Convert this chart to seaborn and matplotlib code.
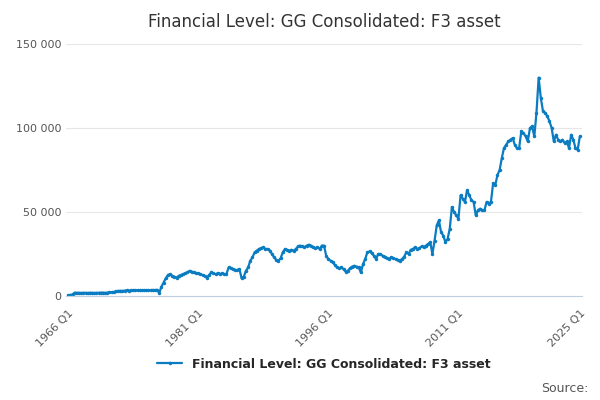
import matplotlib
matplotlib.use('Agg')
import matplotlib.pyplot as plt
import seaborn as sns
import pandas as pd
import numpy as np

# quarterly values (millions), 1966 Q1 .. 2025 Q1
values = [
    500, 600, 900, 2000,        # 1966
    1900, 1900, 1800, 1900,     # 1967
    1900, 1800, 1900, 1900,     # 1968
    1800, 1900, 1900, 2000,     # 1969
    2000, 1900, 2000, 2100,     # 1970
    2200, 2400, 2800, 3000,     # 1971
    3100, 3000, 3200, 3300,     # 1972
    3200, 3400, 3300, 3500,     # 1973
    3400, 3300, 3500, 3400,     # 1974
    3300, 3500, 3400, 3600,     # 1975
    3500, 3700, 1800, 5500,     # 1976
    8000, 10500, 12500, 13000,  # 1977
    12000, 11500, 11000, 12000, # 1978
    12500, 13000, 13500, 14000, # 1979
    15000, 14500, 14000, 13500, # 1980
    13500, 13000, 12500, 12000, # 1981
    11000, 12500, 14000, 13500, # 1982
    13000, 13500, 13000, 13500, # 1983
    13000, 13000, 17000, 16500, # 1984
    16000, 15500, 15500, 16000, # 1985
    10500, 11500, 15000, 17000, # 1986
    21000, 23000, 26000, 27000, # 1987
    28000, 28500, 29000, 28000, # 1988
    28000, 27000, 25000, 23000, # 1989
    21500, 21000, 22500, 26000, # 1990
    28000, 27500, 27000, 27500, # 1991
    27000, 28000, 29500, 30000, # 1992
    29500, 29000, 30000, 30500, # 1993
    30000, 29000, 28500, 29000, # 1994
    28000, 30000, 30000, 24000, # 1995
    22000, 21000, 20000, 18500, # 1996
    17000, 16500, 17000, 16000, # 1997
    14500, 15000, 16500, 17500, # 1998
    18000, 17500, 17000, 14000, # 1999
    19000, 22000, 26000, 26500, # 2000
    25500, 24000, 22000, 25000, # 2001
    25000, 24000, 23500, 22500, # 2002
    22000, 23000, 22500, 22000, # 2003
    21500, 21000, 22000, 23500, # 2004
    26000, 25000, 27500, 28000, # 2005
    29000, 28000, 28500, 29500, # 2006
    29000, 30000, 31000, 32000, # 2007
    25000, 33000, 42000, 45000, # 2008
    38000, 36000, 32000, 34000, # 2009
    40000, 53000, 50000, 48000, # 2010
    46000, 60000, 58000, 56000, # 2011
    63000, 60000, 57000, 56000, # 2012
    48000, 51000, 52000, 51000, # 2013
    51000, 56000, 55000, 56000, # 2014
    67000, 66000, 72000, 75000, # 2015
    82000, 88000, 90000, 92000, # 2016
    93000, 94000, 90000, 88000, # 2017
    88000, 98000, 97000, 95000, # 2018
    92000, 100000, 101000, 95000,  # 2019
    109000, 130000, 118000, 110000,  # 2020
    109000, 107000, 104000, 100000,  # 2021
    92000, 96000, 93000, 92000,  # 2022
    93000, 91000, 92000, 88000,  # 2023
    96000, 93000, 88000, 87000,  # 2024
    95000,                       # 2025
]
tick_labels = ["1966 Q1", "1981 Q1", "1996 Q1", "2011 Q1", "2025 Q1"]
tick_pos = [0, 60, 120, 180, 236]
series_name = "Financial Level: GG Consolidated: F3 asset"

df = pd.DataFrame({"q": np.arange(len(values)), "value": values})

sns.set_style("white")
plt.rcParams['font.family'] = ['DejaVu Sans']
fig, ax = plt.subplots(figsize=(6, 4), dpi=100)
color = "#0a7cc1"
sns.lineplot(data=df, x="q", y="value", ax=ax, color=color, linewidth=1.6,
             marker="o", markersize=2.5, markeredgewidth=0, label=series_name)

ax.set_ylim(0, 150000)
ax.set_yticks([0, 50000, 100000, 150000])
ax.set_yticklabels(["0", "50 000", "100 000", "150 000"], fontsize=8, color="#555555")
ax.set_xlim(-1, 237)
ax.set_xticks(tick_pos)
ax.set_xticklabels(tick_labels, rotation=45, ha="right", rotation_mode="anchor",
                   fontsize=8, color="#555555")
ax.set_xticks(np.arange(0, 237, 20), minor=True)
ax.tick_params(axis="x", which="both", length=5, color="#c0cfe0")
ax.tick_params(axis="y", length=0)
ax.grid(axis="y", color="#e6e6e6", linewidth=0.8)
for s in ["top", "right", "left"]:
    ax.spines[s].set_visible(False)
ax.spines["bottom"].set_color("#c0cfe0")
ax.set_xlabel("")
ax.set_ylabel("")
ax.set_title(series_name, fontsize=12, color="#333333", pad=12)

ax.legend(loc="upper center", bbox_to_anchor=(0.5, -0.2), frameon=False,
          fontsize=9, prop={"weight": "bold", "size": 9})
fig.text(0.98, 0.02, "Source:", ha="right", fontsize=9, color="#555555")
plt.subplots_adjust(left=0.11, right=0.97, top=0.89, bottom=0.26)
plt.savefig("out.png", dpi=100)
